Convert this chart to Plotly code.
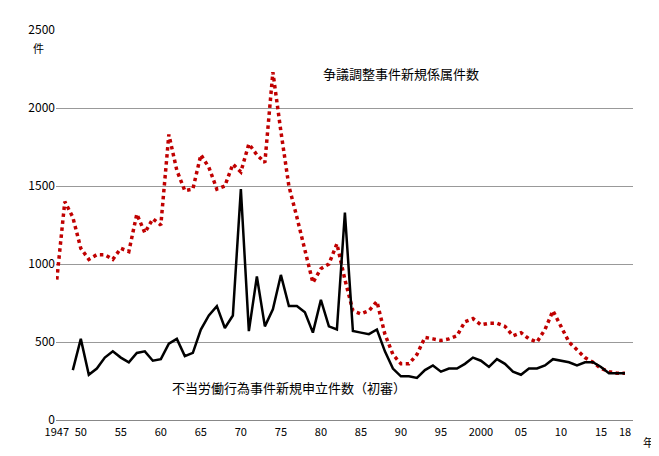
import plotly.graph_objects as go

years = list(range(1947, 2019))
dispute_cases = [900, 1400, 1300, 1100, 1030, 1060, 1060, 1030, 1100, 1080,
                 1320, 1200, 1290, 1250, 1830, 1600, 1470, 1480, 1700, 1620,
                 1480, 1500, 1640, 1590, 1770, 1700, 1650, 2230, 1850, 1500,
                 1300, 1100, 880, 970, 1000, 1130, 900, 700, 680, 700,
                 760, 550, 420, 360, 360, 420, 530, 520, 510, 520,
                 540, 630, 650, 610, 620, 620, 600, 540, 560, 520,
                 500, 580, 700, 600, 500, 450, 400, 370, 330, 310, 300, 300]
ulp_years = list(range(1949, 2019))
ulp_cases = [320, 520, 290, 330, 400, 440, 400, 370, 430, 440,
             380, 390, 490, 520, 410, 430, 580, 670, 730, 590,
             670, 1480, 570, 920, 600, 710, 930, 730, 730, 690,
             560, 770, 600, 580, 1330, 570, 560, 550, 580, 440,
             330, 280, 280, 270, 320, 350, 310, 330, 330, 360,
             400, 380, 340, 390, 360, 310, 290, 330, 330, 350,
             390, 380, 370, 350, 370, 370, 340, 300, 300, 300]
tick_vals = [1947, 1950, 1955, 1960, 1965, 1970, 1975, 1980, 1985, 1990,
             1995, 2000, 2005, 2010, 2015, 2018]
tick_text = ["1947", "50", "55", "60", "65", "70", "75", "80", "85", "90",
             "95", "2000", "05", "10", "15", "18"]

fig = go.Figure()
fig.add_trace(go.Scatter(x=years, y=dispute_cases, mode="lines",
                         line=dict(color="#c00000", width=3.5, dash="dot")))
fig.add_trace(go.Scatter(x=ulp_years, y=ulp_cases, mode="lines",
                         line=dict(color="black", width=2.5)))

font = "Noto Sans CJK JP"
fig.update_layout(
    width=659, height=456, showlegend=False,
    plot_bgcolor="white", paper_bgcolor="white",
    margin=dict(l=48, r=34, t=15, b=44),
    font=dict(family=font, size=11, color="black"),
    xaxis=dict(range=[1946.9, 2019], tickvals=tick_vals, ticktext=tick_text,
               showgrid=False, showline=True, linecolor="#888", ticks="",
               ticklabelstandoff=2, tickfont=dict(size=11)),
    yaxis=dict(range=[0, 2500], dtick=500, showgrid=True, gridcolor="#999",
               showline=False, zeroline=True, zerolinecolor="#888",
               ticks="", tickfont=dict(size=12)),
    annotations=[
        dict(x=0, y=2500, xref="paper", yref="y", text="件", showarrow=False,
             xanchor="right", yanchor="top", xshift=-10, yshift=-8),
        dict(x=1, y=0, xref="paper", yref="y", text="年", showarrow=False,
             xanchor="left", yanchor="top", xshift=8, yshift=-12),
        dict(x=1990, y=2220, text="争議調整事件新規係属件数", showarrow=False,
             font=dict(size=13)),
        dict(x=1976, y=210, text="不当労働行為事件新規申立件数（初審）",
             showarrow=False, font=dict(size=13)),
    ],
)
fig.write_html("out.html")
